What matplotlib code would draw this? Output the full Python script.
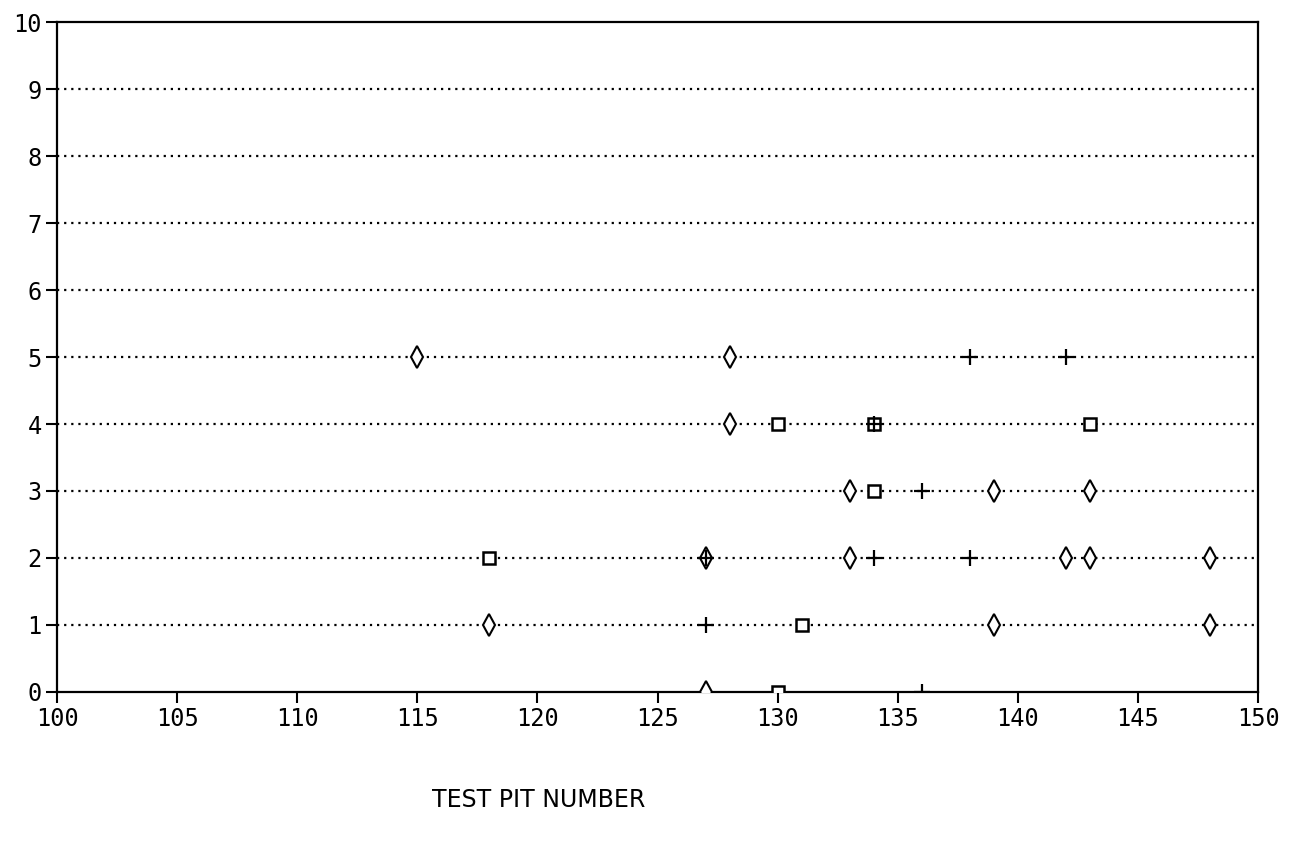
import numpy as np
import matplotlib.pyplot as plt

# test pit number vs value
diamond_x = [115, 128, 128, 133, 139, 143, 127, 133, 142, 143, 148, 118, 139, 148, 127]
diamond_y = [5, 5, 4, 3, 3, 3, 2, 2, 2, 2, 2, 1, 1, 1, 0]
square_x = [130, 134, 143, 134, 118, 131, 130]
square_y = [4, 4, 4, 3, 2, 1, 0]
plus_x = [138, 142, 134, 136, 127, 134, 138, 127, 136]
plus_y = [5, 5, 4, 3, 2, 2, 2, 1, 0]

x_ticks = np.arange(100, 151, 5)
y_ticks = np.arange(0, 11, 1)

fig = plt.figure(figsize=(12.91, 8.48), dpi=100)
ax = fig.add_axes([0.0442, 0.184, 0.9303, 0.790])

for y in y_ticks[1:-1]:
    ax.axhline(y, color='black', linestyle=(0, (1, 2.2)), linewidth=1.6, zorder=1)

ax.plot(diamond_x, diamond_y, linestyle='none', marker='d', markersize=11,
        markerfacecolor='white', markeredgecolor='black', markeredgewidth=1.5, zorder=3)
ax.plot(square_x, square_y, linestyle='none', marker='s', markersize=8,
        markerfacecolor='white', markeredgecolor='black', markeredgewidth=1.8, zorder=3)
ax.plot(plus_x, plus_y, linestyle='none', marker='+', markersize=12,
        markeredgecolor='black', markeredgewidth=1.6, zorder=4)

ax.set_xlim(100, 150)
ax.set_ylim(0, 10)
ax.set_xticks(x_ticks)
ax.set_yticks(y_ticks)
ax.tick_params(direction='out', length=8, width=1.5, labelsize=17, pad=3)
for lab in ax.get_xticklabels() + ax.get_yticklabels():
    lab.set_family('DejaVu Sans Mono')
for sp in ax.spines.values():
    sp.set_linewidth(1.6)

fig.text(0.417, 0.057, 'TEST PIT NUMBER', ha='center', va='center', fontsize=17)

fig.savefig('out.png', dpi=100)
